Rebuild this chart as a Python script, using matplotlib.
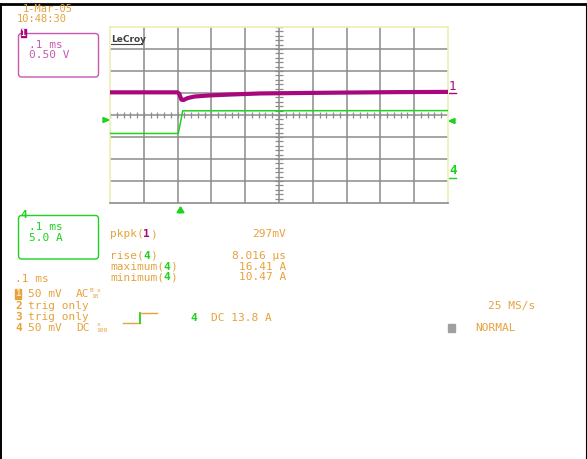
import numpy as np
import matplotlib
matplotlib.use('Agg')
import matplotlib.pyplot as plt
from matplotlib.patches import FancyBboxPatch, Rectangle, Polygon

# --- Configuration ---
OUTPUT_FILE = 'out.png'
W, H = 587, 459
MONO = 'DejaVu Sans Mono'
FS = 8
CW = 0.602 * FS * 100 / 72  # width of one mono char in pixels

ORANGE = '#e6a23c'
MAGENTA = '#a8087c'
MAGENTA_LT = '#c658b0'
GREEN = '#1ed21e'
GRID = '#8c8c8c'
FRAME = '#eeeeb4'

# --- Data (time in ms, amplitude in screen divisions) ---
TIME_DIV_MS = 0.1
X_RANGE = (-0.2, 0.8)
Y_DIVS = 4

ch1_time = [-0.2, 0.0, 0.005, 0.011, 0.017, 0.03, 0.05, 0.095, 0.155, 0.245, 0.365, 0.5, 0.65, 0.8]
ch1_div = [1.03, 1.03, 0.96, 0.70, 0.68, 0.77, 0.84, 0.89, 0.93, 0.98, 1.0, 1.02, 1.04, 1.05]

ch4_time = [-0.2, 0.002, 0.010, 0.015, 0.8]
ch4_div = [-0.84, -0.84, -0.23, 0.19, 0.20]

measure_names = ['pkpk', 'rise', 'maximum', 'minimum']
measure_chan = ['1', '4', '4', '4']
measure_values = ['297mV', '8.016 µs', '16.41 A', '10.47 A']


def txt(ax, x, y, s, color=ORANGE, size=FS, weight='normal', ha='left'):
    ax.text(x, y, s, color=color, fontsize=size, family=MONO,
            fontweight=weight, ha=ha, va='center')


def chan_color(c):
    return MAGENTA if c == '1' else GREEN


# --- Figure ---
fig = plt.figure(figsize=(W / 100, H / 100), dpi=100)

# overlay in pixel coordinates for labels / annotations
ov = fig.add_axes([0, 0, 1, 1])
ov.set_xlim(0, W)
ov.set_ylim(H, 0)
ov.axis('off')

# page border
ov.plot([0, W], [3.6, 3.6], color='black', lw=2.0)
ov.plot([0.8, 0.8], [3.6, H], color='black', lw=1.4)
ov.plot([586.3, 586.3], [3.6, H], color='black', lw=0.8)

# date / time
txt(ov, 23, 8.6, '1-Mar-05', size=7.5)
txt(ov, 17, 19.5, '10:48:30', size=7.5)

# channel 1 box
ov.add_patch(FancyBboxPatch((18.5, 33.5), 80, 43.5, boxstyle='round,pad=0,rounding_size=3',
                            fill=False, ec=MAGENTA_LT, lw=1.0))
ov.add_patch(Rectangle((20.5, 28.5), 5.5, 8.5, color=MAGENTA))
ov.text(23.2, 33, '1', color='white', fontsize=6, family=MONO, fontweight='bold',
        ha='center', va='center')
txt(ov, 29, 44.5, '.1 ms', color=MAGENTA_LT)
txt(ov, 29, 55, '0.50 V', color=MAGENTA_LT)

# channel 4 box
ov.add_patch(FancyBboxPatch((18.5, 215.5), 80, 43.5, boxstyle='round,pad=0,rounding_size=3',
                            fill=False, ec=GREEN, lw=1.0))
txt(ov, 20, 215.5, '4', color=GREEN, weight='bold')
txt(ov, 29, 226.7, '.1 ms', color=GREEN)
txt(ov, 29, 237.7, '5.0 A', color=GREEN)

# measurements
meas_y = [234.3, 256, 266.7, 277.3]
for name, ch, val, y in zip(measure_names, measure_chan, measure_values, meas_y):
    txt(ov, 110, y, name + '(')
    txt(ov, 110 + (len(name) + 1) * CW, y, ch, color=chan_color(ch), weight='bold')
    txt(ov, 110 + (len(name) + 2) * CW, y, ')')
    txt(ov, 286, y, val, ha='right')

txt(ov, 15, 279.5, '.1 ms')

# channel list
ov.add_patch(Rectangle((15, 289), 5.5, 10, color=ORANGE))
ov.text(17.8, 294, '1', color='#fbe3b8', fontsize=6.5, family=MONO, fontweight='bold',
        ha='center', va='center')
txt(ov, 28, 294, '50 mV')
txt(ov, 76, 294, 'AC')
ov.text(90, 290.5, 'B', color=ORANGE, fontsize=4.5, family=MONO, va='center')
ov.text(96.5, 290.5, 'x', color=ORANGE, fontsize=4.5, family=MONO, va='center')
ov.text(91, 297, '10', color=ORANGE, fontsize=4.5, family=MONO, va='center')
txt(ov, 15, 305.7, '2', weight='bold')
txt(ov, 28, 305.7, 'trig only')
txt(ov, 15, 317, '3', weight='bold')
txt(ov, 28, 317, 'trig only')
txt(ov, 15, 327.7, '4', weight='bold')
txt(ov, 28, 327.7, '50 mV')
txt(ov, 76, 327.7, 'DC')
ov.text(97, 325, 'x', color=ORANGE, fontsize=4.5, family=MONO, va='center')
ov.text(96, 330.5, '100', color=ORANGE, fontsize=4.5, family=MONO, va='center')

# trigger icon
ov.plot([123, 139.5], [323.3, 323.3], color=ORANGE, lw=1.0)
ov.plot([139.5, 139.5], [313.3, 323.3], color=GREEN, lw=1.3)
ov.plot([139.5, 156.5], [313.3, 313.3], color=ORANGE, lw=1.0)
txt(ov, 190.5, 318, '4', color=GREEN, weight='bold')
txt(ov, 211, 318, 'DC 13.8 A')

# acquisition
txt(ov, 488, 306.3, '25 MS/s')
ov.add_patch(Rectangle((448, 324), 7, 7.5, color='#a0a0a0'))
txt(ov, 475, 328.3, 'NORMAL')

# trace markers at the graticule edges
ov.add_patch(Polygon([[103, 117.5], [103, 122.5], [109, 120]], color=GREEN))
ov.add_patch(Polygon([[455, 118.5], [455, 123.5], [449, 121]], color=GREEN))
txt(ov, 449, 86, '1', color=MAGENTA, size=9)
ov.plot([449, 456], [92.5, 92.5], color=MAGENTA, lw=1.0)
txt(ov, 449, 170, '4', color=GREEN, size=9, weight='bold')
ov.plot([449, 456], [177.7, 177.7], color=GREEN, lw=1.0)
ov.annotate('', xy=(180.5, 203), xytext=(180.5, 215.5),
            arrowprops=dict(arrowstyle='-|>,head_length=0.35,head_width=0.22',
                            color=GREEN, lw=1.4))

# --- Graticule axes ---
left, right, top, bottom = 110, 448, 27, 203
ax = fig.add_axes([left / W, 1 - bottom / H, (right - left) / W, (bottom - top) / H])
ax.set_xlim(*X_RANGE)
ax.set_ylim(-Y_DIVS, Y_DIVS)
ax.set_xticks([])
ax.set_yticks([])
ax.set_facecolor('white')
for side in ['top', 'left', 'right']:
    ax.spines[side].set_color(FRAME)
    ax.spines[side].set_linewidth(1.2)
ax.spines['bottom'].set_color(GRID)
ax.spines['bottom'].set_linewidth(1.2)

x_grid = np.arange(X_RANGE[0] + TIME_DIV_MS, X_RANGE[1] - 1e-9, TIME_DIV_MS)
y_grid = np.arange(-Y_DIVS + 1, Y_DIVS)
for xv in x_grid:
    ax.axvline(xv, color=GRID, lw=1.1, zorder=1)
for yv in y_grid:
    ax.axhline(yv, color=GRID, lw=1.1, zorder=1)

# minor ticks on the centre cross
x_mid = (X_RANGE[0] + X_RANGE[1]) / 2
x_minor = np.arange(X_RANGE[0], X_RANGE[1] + 1e-9, TIME_DIV_MS / 5)
y_minor = np.arange(-Y_DIVS, Y_DIVS + 1e-9, 0.2)
ax.vlines(x_minor, -0.12, 0.12, color=GRID, lw=0.9, zorder=1)
ax.hlines(y_minor, x_mid - 0.012, x_mid + 0.012, color=GRID, lw=0.9, zorder=1)

# LeCroy logo
ax.text(0.004, 0.955, 'LeCroy', transform=ax.transAxes, fontsize=6.5, color='#404040',
        fontweight='bold', ha='left', va='top', family='DejaVu Sans')
ax.plot([0.003, 0.094], [0.905, 0.905], transform=ax.transAxes,
        color='#404040', lw=0.8)

# traces
ax.plot(ch4_time, ch4_div, color=GREEN, lw=1.1, zorder=3)
ax.plot(ch1_time, ch1_div, color=MAGENTA, lw=3.0, zorder=4)

fig.savefig(OUTPUT_FILE, dpi=100)
plt.close(fig)
